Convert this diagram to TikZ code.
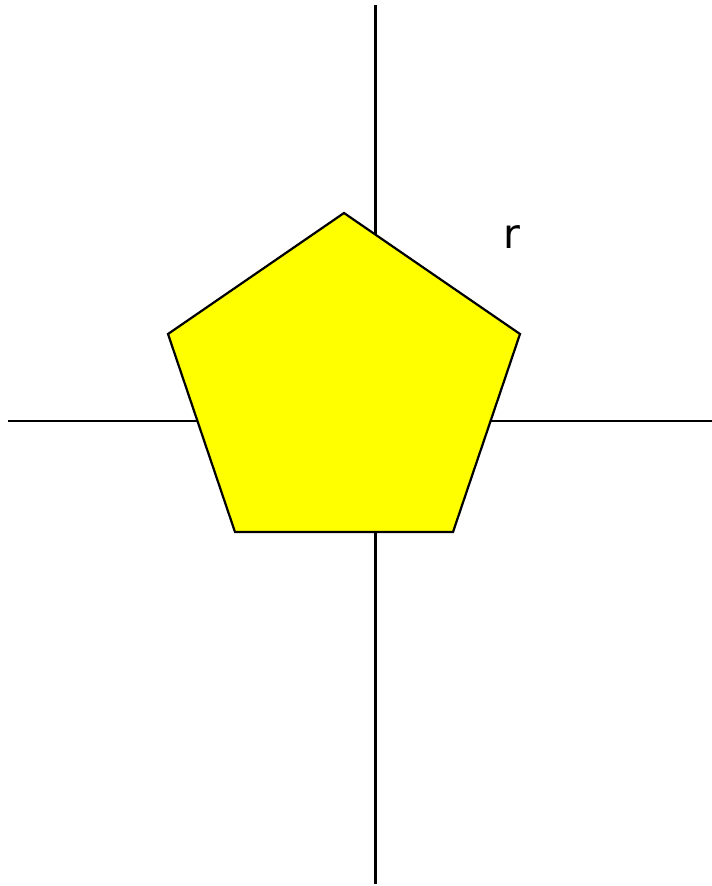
\documentclass[tikz,border=0pt]{standalone}
\usepackage{fontspec}
\setmainfont{DejaVu Sans}
\definecolor{pentyellow}{RGB}{255,255,0}
\begin{document}
\begin{tikzpicture}[x=1pt,y=-1pt,
  axis/.style={line width=2.2pt,black},
  pent/.style={draw=black,line width=2.2pt,fill=pentyellow,line join=miter}]
\useasboundingbox (0,0) rectangle (712,886);
\coordinate (vt) at (375.5,5);
\coordinate (vb) at (375.5,884);
\coordinate (hl) at (8,421);
\coordinate (hr) at (712,421);
\draw[axis] (vt) -- (vb);
\draw[axis] (hl) -- (hr);
\coordinate (p1) at (344,213);
\coordinate (p2) at (520,334);
\coordinate (p3) at (453,532);
\coordinate (p4) at (235,532);
\coordinate (p5) at (168,334);
\draw[pent] (p1) -- (p2) -- (p3) -- (p4) -- (p5) -- cycle;
\node[font=\fontsize{41}{45}\selectfont,inner sep=0pt] (r) at (512,237) {r};
\end{tikzpicture}
\end{document}
